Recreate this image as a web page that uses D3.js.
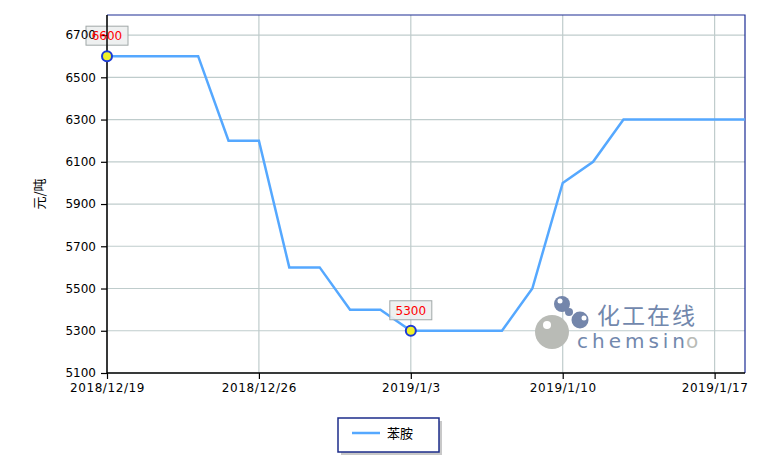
<!DOCTYPE html>
<html><head><meta charset="utf-8">
<script src="https://cdn.jsdelivr.net/npm/d3@7/dist/d3.min.js"></script>
<style>body{margin:0;background:#fff}svg{display:block}</style>
</head><body><svg id="c" width="779" height="467"></svg>
<script>
const dates = ["2018/12/19","2018/12/20","2018/12/21","2018/12/24","2018/12/25","2018/12/26","2018/12/27","2018/12/28","2018/12/31","2019/1/2","2019/1/3","2019/1/4","2019/1/7","2019/1/8","2019/1/9","2019/1/10","2019/1/11","2019/1/14","2019/1/15","2019/1/16","2019/1/17","2019/1/18"];
const prices = [6600,6600,6600,6600,6200,6200,5600,5600,5400,5400,5300,5300,5300,5300,5500,6000,6100,6300,6300,6300,6300,6300];
const xTickLabels = ["2018/12/19","2018/12/26","2019/1/3","2019/1/10","2019/1/17"];
const yTicks = [5100,5300,5500,5700,5900,6100,6300,6500,6700];
const annotated = ["2018/12/19","2019/1/3"];
const seriesName = "苯胺";
const yLabel = "元/吨";

const svg = d3.select("#c");
const L=107,R=745,T=15,B=373;
const x = d3.scalePoint().domain(dates).range([L,R]);
const y = d3.scaleLinear().domain([5100,6795]).range([B,T]);
const font = "'DejaVu Sans', sans-serif";

// grid
svg.append("g").selectAll("line").data(yTicks).join("line")
  .attr("x1",L).attr("x2",R).attr("y1",d=>y(d)).attr("y2",d=>y(d))
  .attr("stroke","#bfcccc").attr("stroke-width",1.2);
svg.append("g").selectAll("line").data(xTickLabels).join("line")
  .attr("x1",d=>x(d)).attr("x2",d=>x(d)).attr("y1",T).attr("y2",B)
  .attr("stroke","#bfcccc").attr("stroke-width",1.2);

// frame top/right
svg.append("path").attr("d",`M${L},${T}H${R}V${B}`).attr("fill","none").attr("stroke","#1c2c94").attr("stroke-width",1.2);

// watermark
const wm = svg.append("g");
wm.append("circle").attr("cx",552).attr("cy",332).attr("r",17).attr("fill","#b9bbb6");
wm.append("circle").attr("cx",547).attr("cy",325).attr("r",4).attr("fill","#fff");
wm.append("circle").attr("cx",562).attr("cy",304).attr("r",8).attr("fill","#7486ab");
wm.append("circle").attr("cx",560).attr("cy",301).attr("r",2.5).attr("fill","#fff");
wm.append("circle").attr("cx",569).attr("cy",312).attr("r",4).attr("fill","#7486ab");
wm.append("circle").attr("cx",580).attr("cy",320).attr("r",8.5).attr("fill","#7486ab");
wm.append("circle").attr("cx",584).attr("cy",318).attr("r",2.5).attr("fill","#fff");
wm.append("text").attr("x",597).attr("y",324).attr("font-family","'Noto Sans CJK SC',sans-serif").attr("font-size",23).attr("fill","#7288ad").attr("textLength",98).text("化工在线");
wm.append("text").attr("x",577).attr("y",348).attr("font-family","'DejaVu Sans',sans-serif").attr("font-size",20).attr("fill","#7288ad").attr("textLength",108).text("chemsin");
wm.append("text").attr("x",686).attr("y",348).attr("font-family","'DejaVu Sans',sans-serif").attr("font-size",20).attr("fill","#b9bbb6").text("o");

// line
svg.append("path").datum(dates.map((d,i)=>[d,prices[i]]))
  .attr("d",d3.line().x(d=>x(d[0])).y(d=>y(d[1])))
  .attr("fill","none").attr("stroke","#55a8ff").attr("stroke-width",2.5);

// annotation boxes (under axis labels)
annotated.forEach(d=>{
  const v = prices[dates.indexOf(d)];
  const cx=x(d), cy=y(v);
  svg.append("rect").attr("x",cx-21).attr("y",cy-30).attr("width",42).attr("height",19).attr("fill","#eceeee").attr("fill-opacity",0.9).attr("stroke","#a0a8a8");
});

// axes
const yAxis = d3.axisLeft(y).tickValues(yTicks).tickFormat(d3.format("d")).tickSize(6).tickPadding(5);
const gy = svg.append("g").attr("transform",`translate(${L},0)`).call(yAxis);
const xAxis = d3.axisBottom(x).tickValues(xTickLabels).tickSize(6).tickPadding(4);
const gx = svg.append("g").attr("transform",`translate(0,${B})`).call(xAxis);
[gx,gy].forEach(g=>{
  g.selectAll(".domain").attr("stroke","#000").attr("stroke-width",1.5);
  g.selectAll(".tick line").attr("stroke","#000").attr("stroke-width",1.2);
  g.selectAll("text").attr("font-family",font).attr("font-size",12).attr("font-weight","normal").attr("fill","#000");
});
gx.selectAll("text").attr("letter-spacing",0.6);
gy.select(".domain").attr("d",`M0,${T}V${B}`);
gx.select(".domain").attr("d",`M${L},0H${R}`);

svg.append("text").attr("transform","translate(44,194) rotate(-90)")
  .attr("text-anchor","middle").attr("font-family","'Noto Sans CJK SC',sans-serif").attr("font-size",13).text(yLabel);

// annotation markers and labels
annotated.forEach(d=>{
  const v = prices[dates.indexOf(d)];
  const cx=x(d), cy=y(v);
  svg.append("circle").attr("cx",cx).attr("cy",cy).attr("r",5).attr("fill","#f0f02a").attr("stroke","#1a3ad8").attr("stroke-width",2);
  svg.append("text").attr("x",cx).attr("y",cy-16).attr("text-anchor","middle").attr("font-family",font).attr("font-size",12).attr("fill","#ff0000").text(v);
});

// legend
const lg = svg.append("g");
lg.append("rect").attr("x",341).attr("y",421).attr("width",101).attr("height",34).attr("fill","#c8c8c8");
lg.append("rect").attr("x",338).attr("y",418).attr("width",101).attr("height",34).attr("fill","#fff").attr("stroke","#1c2c8a").attr("stroke-width",1.5);
lg.append("line").attr("x1",352).attr("x2",380).attr("y1",433).attr("y2",433).attr("stroke","#55a8ff").attr("stroke-width",2.5);
lg.append("text").attr("x",387).attr("y",438).attr("font-family","'Noto Sans CJK SC',sans-serif").attr("font-size",13).text(seriesName);
</script></body></html>
